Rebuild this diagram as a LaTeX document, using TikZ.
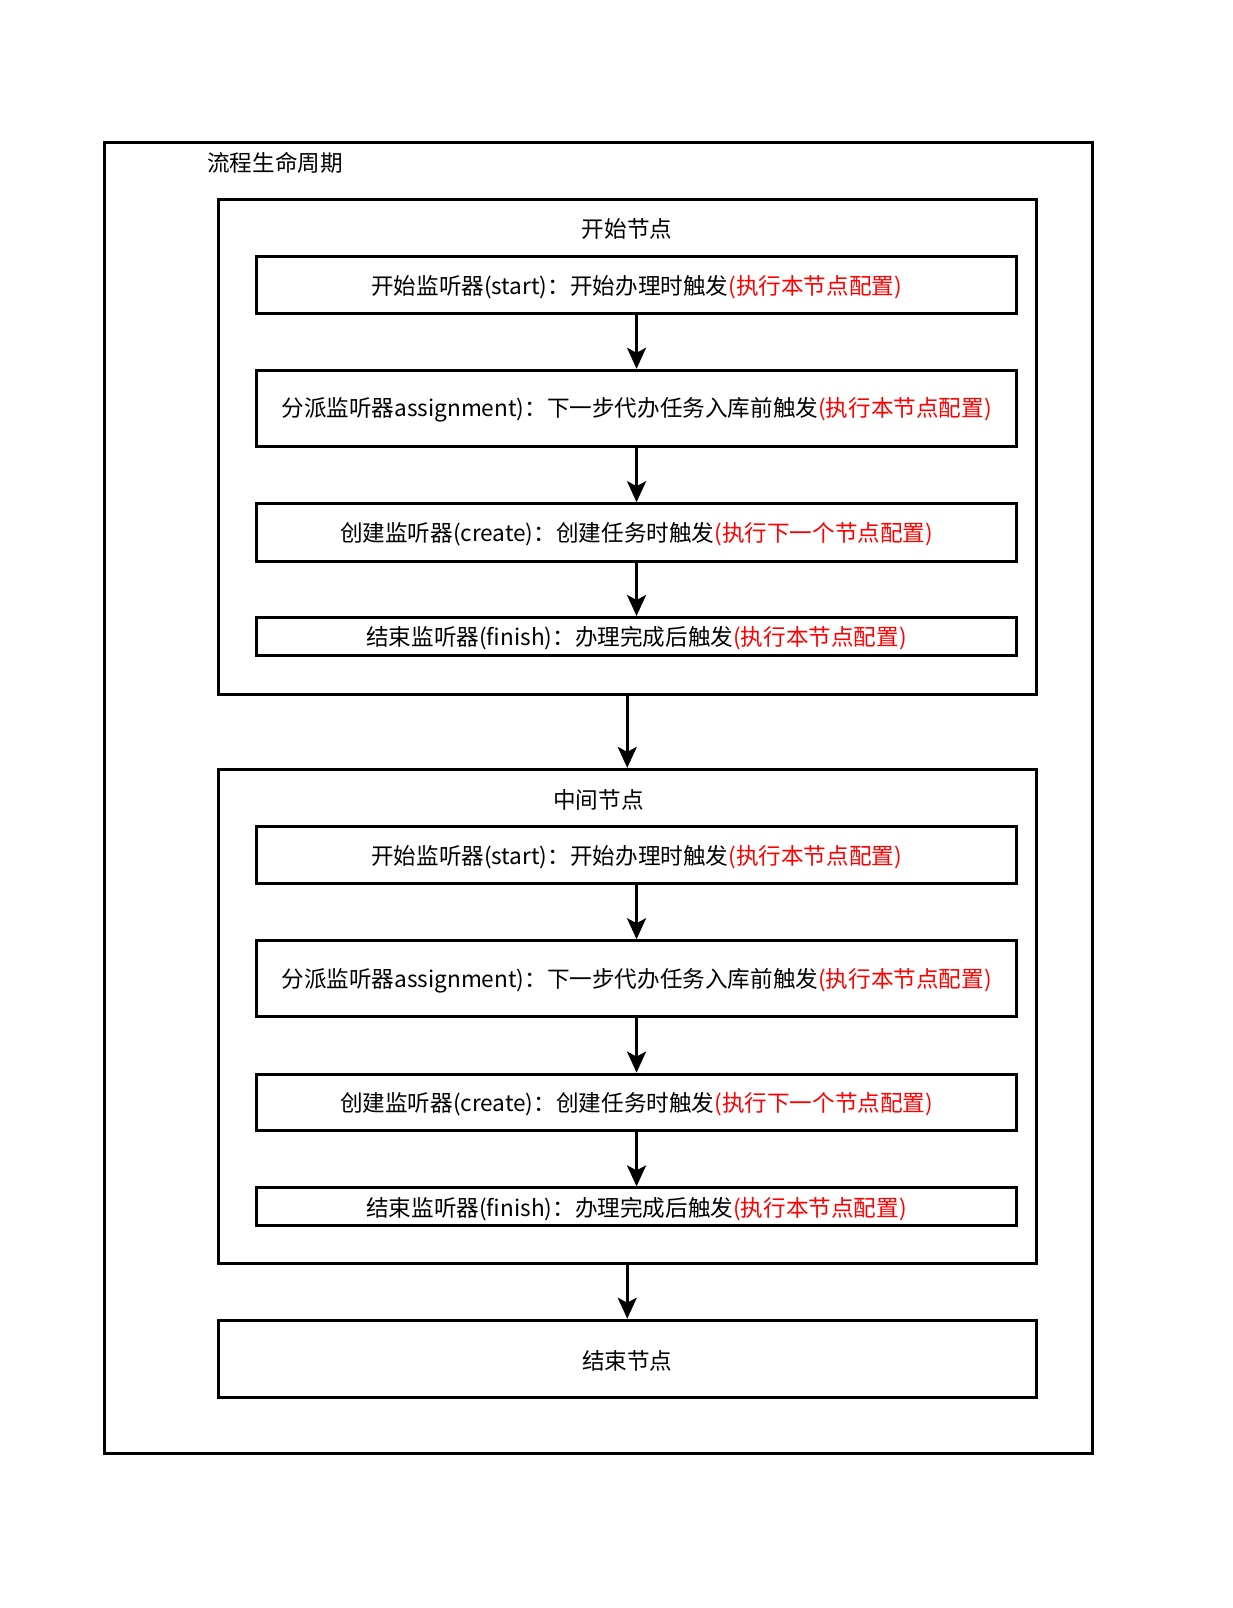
\documentclass[tikz,border=0pt]{standalone}
\usepackage{fontspec}
\setmainfont{Noto Sans CJK SC}
\usetikzlibrary{arrows.meta}
\definecolor{cfgred}{RGB}{255,0,0}
\tikzset{
  frame/.style={draw=black, line width=3pt, fill=white},
  lbl/.style={inner sep=0pt, font=\fontsize{22.6}{26}\selectfont},
  arr/.style={draw=black, line width=3pt, -{Stealth[length=21pt,width=19pt,inset=5pt]}, shorten >=0pt}
}
\newcommand{\cfg}[1]{\textcolor{cfgred}{#1}}
\newcommand{\lowr}[1]{\raisebox{-2pt}[\height][\depth]{#1}}
\begin{document}
\begin{tikzpicture}[x=1pt,y=-1pt]
\useasboundingbox (0,0) rectangle (1232,1608);
% outer
\draw[frame] (104.6,142.6) rectangle (1092.5,1453.6);
\node[lbl, anchor=west] (title) at (207,163) {流程生命周期};

% start container
\node[frame, rectangle, inner sep=0pt, minimum width=817.5pt, minimum height=494.5pt] (startc) at (627.25,447.25) {};
\node[lbl] (startlbl) at (627,229) {开始节点};
\node[frame, rectangle, inner sep=0pt, minimum width=760.1pt, minimum height=56.5pt, lbl] (s1) at (636.55,284.75) {\lowr{开始监听器(start)：开始办理时触发\cfg{(执行本节点配置)}}};
\node[frame, rectangle, inner sep=0pt, minimum width=760.1pt, minimum height=75.9pt, lbl] (s2) at (636.55,408.25) {\lowr{分派监听器assignment)：下一步代办任务入库前触发\cfg{(执行本节点配置)}}};
\node[frame, rectangle, inner sep=0pt, minimum width=760.1pt, minimum height=57.4pt, lbl] (s3) at (636.55,532.4) {\lowr{创建监听器(create)：创建任务时触发\cfg{(执行下一个节点配置)}}};
\node[frame, rectangle, inner sep=0pt, minimum width=760.1pt, minimum height=38pt, lbl] (s4) at (636.55,636.5) {\lowr{结束监听器(finish)：办理完成后触发\cfg{(执行本节点配置)}}};
\draw[arr] (s1.south) -- (s2.north);
\draw[arr] (s2.south) -- (s3.north);
\draw[arr] (s3.south) -- (s4.north);

% middle container
\node[frame, rectangle, inner sep=0pt, minimum width=817.5pt, minimum height=494.4pt] (midc) at (627.25,1016.6) {};
\node[lbl] (midlbl) at (598.5,800) {中间节点};
\node[frame, rectangle, inner sep=0pt, minimum width=760.1pt, minimum height=56.4pt, lbl] (m1) at (636.55,855) {\lowr{开始监听器(start)：开始办理时触发\cfg{(执行本节点配置)}}};
\node[frame, rectangle, inner sep=0pt, minimum width=760.1pt, minimum height=75.9pt, lbl] (m2) at (636.55,978.65) {\lowr{分派监听器assignment)：下一步代办任务入库前触发\cfg{(执行本节点配置)}}};
\node[frame, rectangle, inner sep=0pt, minimum width=760.1pt, minimum height=56.4pt, lbl] (m3) at (636.55,1102.3) {\lowr{创建监听器(create)：创建任务时触发\cfg{(执行下一个节点配置)}}};
\node[frame, rectangle, inner sep=0pt, minimum width=760.1pt, minimum height=37.9pt, lbl] (m4) at (636.55,1206.85) {\lowr{结束监听器(finish)：办理完成后触发\cfg{(执行本节点配置)}}};
\draw[arr] (m1.south) -- (m2.north);
\draw[arr] (m2.south) -- (m3.north);
\draw[arr] (m3.south) -- (m4.north);

% end node
\node[frame, rectangle, inner sep=0pt, minimum width=817.5pt, minimum height=77pt, lbl] (endn) at (627.25,1358.7) {\lowr{结束节点}};

\draw[arr] (startc.south) -- (midc.north);
\draw[arr] (midc.south) -- (endn.north);
\end{tikzpicture}
\end{document}
